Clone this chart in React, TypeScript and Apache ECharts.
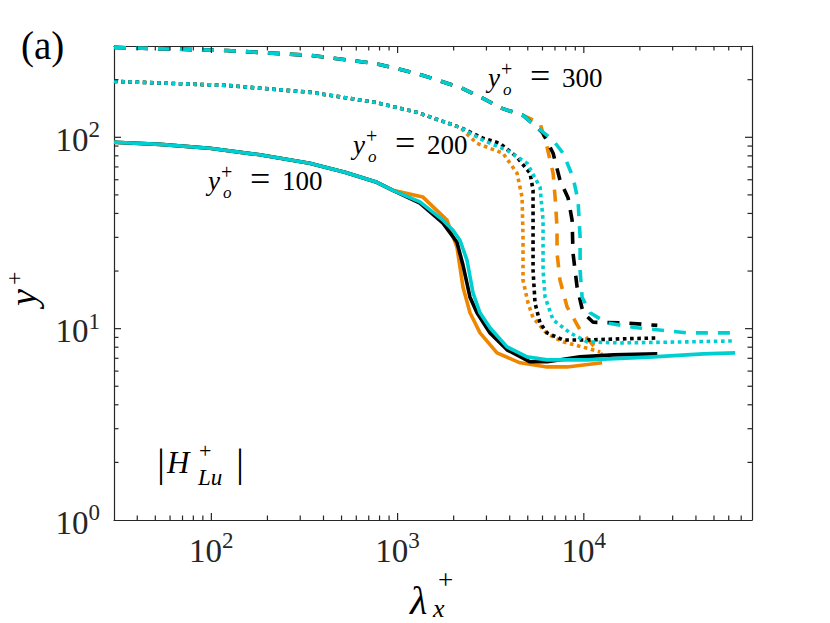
import React, { useEffect, useRef } from "react";
import * as echarts from "echarts";

// ---------- axes ----------
const X_MIN = 30;
const X_MAX = 80000;
const Y_MIN = 1;
const Y_MAX = 300;

const xMajorTicks = [100, 1000, 10000];
const yMajorTicks = [10, 100];
const xMinorTicks = [
  40, 50, 60, 70, 80, 90,
  200, 300, 400, 500, 600, 700, 800, 900,
  2000, 3000, 4000, 5000, 6000, 7000, 8000, 9000,
  20000, 30000, 40000, 50000, 60000, 70000,
];
const yMinorTicks = [2, 3, 4, 5, 6, 7, 8, 9, 20, 30, 40, 50, 60, 70, 80, 90, 200];

// ---------- y_o+ = 100 (solid) ----------
const solidHead: [number, number][] = [
  [30, 94.2], [53, 91.8], [98, 87.6], [182, 81.0], [337, 73.2], [521, 65.7], [774, 58.2], [944, 52.8],
];
const solidOrange: [number, number][] = [
  ...solidHead,
  [1368, 48.7], [1841, 36.9], [2083, 26.7], [2244, 16.5], [2448, 12.1], [2770, 9.5],
  [3418, 7.47], [4545, 6.63], [6350, 6.31], [8130, 6.31], [12540, 6.63],
];
const solidBlack: [number, number][] = [
  ...solidHead,
  [1318, 45.3], [1753, 35.6], [2083, 28.3], [2244, 21.5], [2448, 14.6], [2668, 12.1],
  [3135, 9.5], [3869, 7.75], [5143, 6.71], [6350, 6.71], [9550, 7.12], [14380, 7.29], [24800, 7.38],
];
const solidCyan: [number, number][] = [
  ...solidHead,
  [1318, 46.0], [1753, 36.9], [1984, 32.7], [2162, 29.0], [2358, 22.8], [2541, 15.4],
  [2770, 12.1], [3135, 10.1], [3869, 8.03], [4955, 7.12], [6350, 6.87], [10420, 6.87],
  [23600, 7.12], [43800, 7.38], [65000, 7.47],
];

// ---------- y_o+ = 200 (dotted) ----------
const dottedHead: [number, number][] = [
  [30, 196], [121, 186.7], [344, 171.7], [755, 152.3], [1270, 135], [2162, 112.7],
];
const dottedOrange: [number, number][] = [
  ...dottedHead,
  [2668, 93.0], [3683, 82.5], [4379, 64.9], [4660, 48.7], [4715, 30.1], [4715, 17.9],
  [5019, 13.6], [5338, 11.4], [6350, 9.4], [7740, 8.53], [9790, 8.03], [12240, 7.56],
];
const dottedBlack: [number, number][] = [
  ...dottedHead,
  [2875, 99], [3548, 93.0], [4379, 78.7], [5143, 64.9], [5338, 52.9], [5338, 36.9],
  [5338, 20.2], [5470, 13.6], [5821, 10.7], [6350, 9.5], [7740, 8.73], [10420, 8.73],
  [15670, 8.84], [24800, 8.94],
];
const dottedCyan: [number, number][] = [
  ...dottedHead,
  [2875, 96.5], [3869, 85.5], [4955, 73.2], [5821, 54.8], [6040, 36.9], [6040, 20.2],
  [6194, 14.6], [6840, 11.1], [8440, 9.5], [10420, 8.53], [15670, 8.42], [35940, 8.53], [65050, 8.63],
];

// ---------- y_o+ = 300 (dashed) ----------
const dashedHead: [number, number][] = [
  [30, 295], [121, 284], [344, 267.7], [755, 243.3], [1270, 215.6], [2162, 182.3],
  [2803, 161.8], [3637, 141.6], [4379, 133.4], [4715, 130.2],
];
const dashedOrange: [number, number][] = [
  ...dashedHead,
  [5821, 118.3], [6350, 88.7], [6840, 64.9], [7010, 48.7], [7180, 33.9], [7180, 24.8],
  [7450, 17.9], [8130, 13.0], [9550, 9.84], [11780, 7.75], [12540, 7.29],
];
const dashedBlack: [number, number][] = [
  ...dashedHead,
  [5610, 112.7], [6040, 104.9], [6840, 82.5], [7450, 59.6], [8236, 48.1], [8650, 36.9],
  [8750, 24.8], [9200, 16.5], [9910, 12.1], [11220, 10.8], [17100, 10.7], [24800, 10.4],
];
const dashedCyan: [number, number][] = [
  ...dashedHead,
  [5610, 112.7], [6840, 96.5], [7740, 82.5], [8750, 61.8], [9310, 46.9], [9550, 30.1],
  [9550, 20.2], [9790, 14.6], [10810, 12.1], [13340, 10.7], [19350, 10.1], [35940, 9.5], [65050, 9.5],
];

// annotation values
const yoValues = ["100", "200", "300"];

// ---------- styles ----------
const ORANGE = "#EE8600";
const BLACK = "#000000";
const CYAN = "#00CFD2";
const AXIS = "#262626";
const SERIF = "'Liberation Serif', 'DejaVu Serif', serif";
const LW = 3.6;
const DASH = [12, 10];
const DOT = [3.6, 3.6];

// text helper: 'middle' alignment -> baseline offset
const mid = (baseline: number, fs: number) => baseline - 0.3375 * fs;

function txt(
  text: string,
  x: number,
  baseline: number,
  fs: number,
  italic = false,
  align: "left" | "center" | "right" = "left"
) {
  return {
    type: "text",
    x,
    y: mid(baseline, fs),
    silent: true,
    style: {
      text,
      font: `${italic ? "italic " : ""}${fs}px ${SERIF}`,
      fill: "#000",
      textAlign: align,
      textVerticalAlign: "middle",
    },
  };
}

function yoLabel(x0: number, base: number, value: string) {
  return {
    type: "group",
    children: [
      txt("y", x0, base, 27, true),
      txt("+", x0 + 13, base - 11, 20),
      txt("o", x0 + 15, base + 8, 17, true),
      txt("=", x0 + 42, base + 1, 36),
      txt(value, x0 + 74, base, 27),
    ],
  };
}

export default function App() {
  const ref = useRef<HTMLDivElement>(null);

  useEffect(() => {
    if (!ref.current) return;
    const chart = echarts.init(ref.current, undefined, { renderer: "svg" });

    const tickData: number[][] = [
      ...xMajorTicks.map((v) => [v, 10, 0, 7]),
      ...xMinorTicks.map((v) => [v, 10, 0, 4.5]),
      ...yMajorTicks.map((v) => [100, v, 1, 7]),
      ...yMinorTicks.map((v) => [100, v, 1, 4.5]),
    ];

    const powLabel = (v: number) => {
      const e = Math.log10(v);
      if (Math.abs(e - Math.round(e)) > 1e-6) return "";
      return `{b|10}{s|${Math.round(e)}}`;
    };
    const labelRich = {
      b: { fontSize: 33, fontFamily: SERIF, color: "#262626", lineHeight: 38, verticalAlign: "bottom" },
      s: { fontSize: 23, fontFamily: SERIF, color: "#262626", lineHeight: 23, verticalAlign: "top" },
    };

    const axisCommon = {
      type: "log",
      logBase: 10,
      axisLine: { show: true, onZero: false, lineStyle: { color: AXIS, width: 1.2 } },
      axisTick: { show: false },
      splitLine: { show: false },
      minorTick: { show: false },
    };

    const lineSeries = (data: [number, number][], color: string, type: any, z: number) => ({
      type: "line",
      data,
      showSymbol: false,
      symbol: "none",
      silent: true,
      z,
      lineStyle: { color, width: LW, type, cap: "butt", join: "round" },
    });

    const option: any = {
      animation: false,
      backgroundColor: "#ffffff",
      grid: { left: 114, right: 78, top: 46, bottom: 103, containLabel: false },
      xAxis: [
        {
          ...axisCommon,
          min: X_MIN,
          max: X_MAX,
          position: "bottom",
          axisLabel: { formatter: powLabel, rich: labelRich, margin: 9, showMinLabel: false, showMaxLabel: false },
        },
        {
          ...axisCommon,
          min: X_MIN,
          max: X_MAX,
          position: "top",
          axisLabel: { show: false },
        },
      ],
      yAxis: [
        {
          ...axisCommon,
          min: Y_MIN,
          max: Y_MAX,
          position: "left",
          axisLabel: { formatter: powLabel, rich: labelRich, margin: 14, showMaxLabel: false },
        },
        {
          ...axisCommon,
          min: Y_MIN,
          max: Y_MAX,
          position: "right",
          axisLabel: { show: false },
        },
      ],
      series: [
        lineSeries(solidOrange, ORANGE, "solid", 2),
        lineSeries(solidBlack, BLACK, "solid", 3),
        lineSeries(solidCyan, CYAN, "solid", 4),
        lineSeries(dottedOrange, ORANGE, DOT, 2),
        lineSeries(dottedBlack, BLACK, DOT, 3),
        lineSeries(dottedCyan, CYAN, DOT, 4),
        lineSeries(dashedOrange, ORANGE, DASH, 2),
        lineSeries(dashedBlack, BLACK, DASH, 3),
        lineSeries(dashedCyan, CYAN, DASH, 4),
        {
          type: "custom",
          silent: true,
          clip: false,
          z: 10,
          data: tickData,
          renderItem: (params: any, api: any) => {
            const cs = params.coordSys;
            const kind = api.value(2);
            const len = api.value(3);
            const p = api.coord([api.value(0), api.value(1)]);
            const style = { stroke: AXIS, lineWidth: 1.2 };
            if (kind === 0) {
              const x = p[0];
              return {
                type: "group",
                children: [
                  { type: "line", shape: { x1: x, y1: cs.y + cs.height, x2: x, y2: cs.y + cs.height - len }, style },
                  { type: "line", shape: { x1: x, y1: cs.y, x2: x, y2: cs.y + len }, style },
                ],
              };
            }
            const y = p[1];
            return {
              type: "group",
              children: [
                { type: "line", shape: { x1: cs.x, y1: y, x2: cs.x + len, y2: y }, style },
                { type: "line", shape: { x1: cs.x + cs.width, y1: y, x2: cs.x + cs.width - len, y2: y }, style },
              ],
            };
          },
        },
      ],
      graphic: [
        txt("(a)", 21, 59, 39),
        yoLabel(208, 190, yoValues[0]),
        yoLabel(353, 154, yoValues[1]),
        yoLabel(488, 87, yoValues[2]),
        // |H_Lu^+|
        txt("|", 157, 476, 40),
        txt("H", 167, 473, 31, true),
        txt("+", 199, 458, 22),
        txt("Lu", 198, 485, 23, true),
        txt("|", 236, 476, 40),
        // x-axis label lambda_x^+
        txt("λ", 410, 614, 40, true),
        txt("+", 438, 589, 27),
        txt("x", 433, 617, 26, true),
        // y-axis label y^+ (rotated)
        {
          type: "group",
          x: 36,
          y: 306,
          rotation: Math.PI / 2,
          children: [txt("y", 0, 0, 38, true), txt("+", 21, -14, 24)],
        },
      ],
    };

    chart.setOption(option);
    return () => chart.dispose();
  }, []);

  return (
    <div
      ref={ref}
      style={{ position: "fixed", left: 0, top: 0, width: 830, height: 623, background: "#fff" }}
    />
  );
}
